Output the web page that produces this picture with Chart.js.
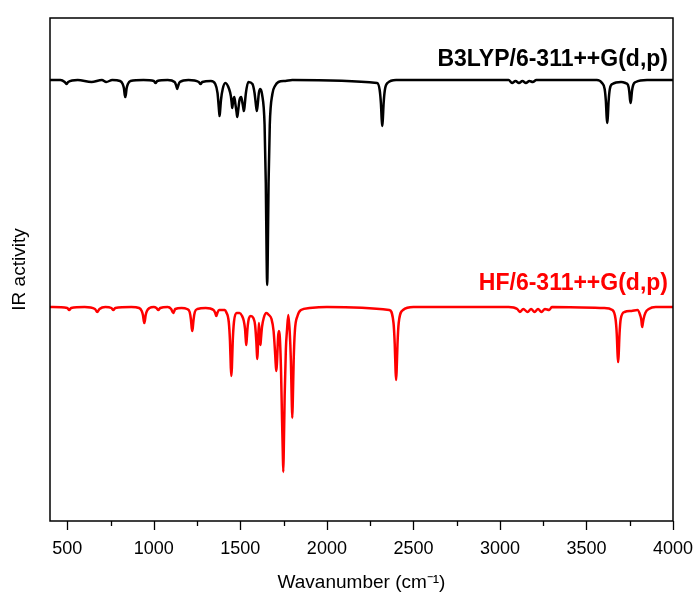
<!DOCTYPE html>
<html>
<head>
<meta charset="utf-8">
<script src="https://cdn.jsdelivr.net/npm/chart.js@4.4.1/dist/chart.umd.min.js"></script>
<style>
  html, body { margin: 0; padding: 0; background: #fff; }
  #wrap { width: 697px; height: 600px; }
</style>
</head>
<body>
<div id="wrap"><canvas id="c" width="697" height="600"></canvas></div>
<script>
// B3LYP/6-311++G(d,p) spectrum (wavenumber, activity in arbitrary units)
var wnB3 = [400, 460, 485, 495, 505, 560, 640, 700, 725, 760,
  805, 820, 827, 832, 835, 838, 843, 850, 865, 940,
  1000, 1010, 1020, 1080, 1120, 1130, 1135, 1140, 1150, 1200,
  1260, 1270, 1280, 1330, 1355, 1368, 1375, 1378, 1380, 1383, 1388, 1398, 1413,
  1435, 1445, 1450, 1453, 1458, 1465, 1472, 1478, 1482, 1487, 1495, 1505,
  1512, 1517, 1520, 1524, 1532, 1546, 1570, 1582, 1590, 1595, 1600, 1607, 1615,
  1625, 1640, 1647, 1652, 1655, 1658, 1663, 1670, 1685, 1700, 1720, 1760, 1800,
  2290, 2305, 2312, 2317, 2320, 2323, 2328, 2335, 2350, 2400, 3000,
  3050, 3070, 3090, 3110, 3130, 3150, 3170, 3190, 3210, 3560,
  3590, 3605, 3612, 3617, 3620, 3623, 3628, 3635, 3650, 3700,
  3725, 3740, 3747, 3752, 3755, 3758, 3763, 3770, 3785, 3850, 4000];
var irB3 = [441, 441, 439, 437, 439, 441, 439, 441, 439, 441,
  440, 437, 433, 426, 424, 426, 433, 437, 440, 441,
  440, 438, 440, 441, 439, 435, 432, 435, 439, 441,
  439, 437, 439, 440, 437, 428, 414, 408, 405, 410, 421, 432, 438,
  432, 425, 418, 413, 420, 424, 416, 409, 404, 410, 421, 424,
  418, 413, 410, 414, 428, 439, 437, 428, 416, 410, 416, 428, 432,
  427, 396, 338, 261, 236, 261, 338, 396, 427, 435, 439, 440, 441,
  438, 431, 418, 401, 395, 401, 418, 431, 438, 441, 441,
  441, 438, 440, 438, 440, 438, 440, 439, 441, 441,
  438, 432, 420, 403, 398, 403, 420, 432, 437, 439,
  438, 436, 430, 421, 418, 421, 430, 436, 439, 441, 441];

// HF/6-311++G(d,p) spectrum
var wnHF = [400, 500, 511, 522, 600, 660, 673, 686, 720, 755, 766, 777, 870,
  915, 930, 937, 942, 945, 948, 953, 960, 975, 1000,
  1015, 1026, 1037, 1080, 1100, 1112, 1124, 1160,
  1192, 1207, 1214, 1219, 1222, 1225, 1230, 1237, 1252, 1300,
  1345, 1355, 1361, 1367, 1377, 1410,
  1418, 1433, 1440, 1445, 1448, 1451, 1456, 1463, 1478, 1495,
  1510, 1520, 1527, 1531, 1534, 1537, 1542, 1550, 1560,
  1575, 1585, 1592, 1596, 1598, 1601, 1607,
  1611, 1614, 1616, 1619, 1625, 1635, 1650, 1665,
  1680, 1692, 1700, 1705, 1708, 1712, 1718, 1723, 1728,
  1735, 1741, 1745, 1748, 1751, 1756, 1763, 1770, 1777,
  1785, 1792, 1797, 1800, 1803, 1808, 1815, 1830, 1850, 1900, 2000,
  2360, 2385, 2392, 2397, 2400, 2403, 2408, 2415, 2440, 2500, 3050,
  3100, 3115, 3135, 3160, 3180, 3200, 3220, 3240, 3260, 3285, 3300, 3600,
  3650, 3668, 3675, 3680, 3683, 3686, 3691, 3698, 3720, 3760,
  3795, 3810, 3817, 3820, 3822, 3825, 3830, 3840, 3860, 3900, 4000];
var irHF = [214, 213, 211, 213, 214, 212, 209, 212, 214, 213, 211, 213, 214,
  213, 210, 206, 200, 198, 200, 206, 210, 213, 214,
  213, 211, 213, 214, 212, 208, 212, 213,
  212, 209, 202, 193, 190, 193, 202, 209, 212, 213,
  211, 208, 205, 208, 211, 211,
  209, 199, 180, 153, 145, 153, 180, 199, 208, 208,
  205, 200, 192, 182, 176, 182, 194, 203, 205,
  203, 196, 180, 166, 162, 172, 198,
  186, 178, 176, 182, 194, 203, 208, 206,
  202, 190, 170, 155, 150, 160, 184, 190, 184,
  150, 100, 70, 49, 72, 125, 172, 192, 206,
  190, 160, 120, 103, 120, 160, 190, 205, 211, 213, 214,
  211, 198, 177, 150, 141, 150, 177, 198, 211, 214, 214,
  212, 209, 212, 209, 212, 209, 212, 209, 212, 211, 214, 213,
  211, 202, 187, 166, 159, 166, 187, 202, 209, 210,
  211, 206, 201, 196, 194, 197, 202, 208, 212, 214, 214];

var xTicks = [500, 750, 1000, 1250, 1500, 1750, 2000, 2250, 2500, 2750, 3000, 3250, 3500, 3750, 4000];
var labelB3 = 'B3LYP/6-311++G(d,p)';
var labelHF = 'HF/6-311++G(d,p)';

var FONT = '"Liberation Sans", Arial, sans-serif';

function pts(xs, ys) {
  var out = [];
  for (var i = 0; i < xs.length; i++) out.push({ x: xs[i], y: ys[i] });
  return out;
}

var framePlugin = {
  id: 'frame',
  afterDraw: function (chart) {
    var ctx = chart.ctx, a = chart.chartArea, sx = chart.scales.x;
    ctx.save();
    ctx.strokeStyle = '#000';
    ctx.lineWidth = 1.5;
    ctx.strokeRect(a.left, a.top, a.right - a.left, a.bottom - a.top);
    ctx.lineWidth = 1.3;
    for (var i = 0; i < xTicks.length; i++) {
      var px = Math.round(sx.getPixelForValue(xTicks[i])) + 0.5;
      var len = xTicks[i] % 500 === 0 ? 9 : 5;
      ctx.beginPath();
      ctx.moveTo(px, a.bottom);
      ctx.lineTo(px, a.bottom + len);
      ctx.stroke();
    }
    ctx.font = 'bold 23px ' + FONT;
    ctx.textAlign = 'right';
    ctx.textBaseline = 'middle';
    ctx.fillStyle = '#000';
    ctx.fillText(labelB3, a.right - 5, 60);
    ctx.fillStyle = '#ff0000';
    ctx.fillText(labelHF, a.right - 5, 284);
    ctx.restore();
  }
};

new Chart(document.getElementById('c'), {
  type: 'line',
  data: {
    datasets: [
      { label: labelB3, data: pts(wnB3, irB3), borderColor: '#000', borderWidth: 2.5,
        pointRadius: 0, cubicInterpolationMode: 'monotone', fill: false },
      { label: labelHF, data: pts(wnHF, irHF), borderColor: '#ff0000', borderWidth: 2.5,
        pointRadius: 0, cubicInterpolationMode: 'monotone', fill: false }
    ]
  },
  options: {
    responsive: false,
    animation: false,
    layout: { padding: { top: 18, right: 24, left: 0, bottom: 0 } },
    plugins: { legend: { display: false }, tooltip: { enabled: false } },
    scales: {
      x: {
        type: 'linear', min: 400, max: 4000,
        afterBuildTicks: function (s) {
          s.ticks = xTicks.filter(function (v) { return v % 500 === 0; }).map(function (v) { return { value: v }; });
        },
        afterFit: function (s) { s.height = 79; s.paddingLeft = 0; s.paddingRight = 0; },
        grid: { display: false, drawTicks: false },
        border: { display: false },
        ticks: { color: '#000', padding: 17, maxRotation: 0, autoSkip: false,
          font: { family: FONT, size: 18 },
          callback: function (v) { return String(v); } },
        title: { display: true, text: 'Wavanumber (cm\u207B\u00B9)', color: '#000',
          font: { family: FONT, size: 19 },
          padding: { top: 4, bottom: 6 } }
      },
      y: {
        min: 0, max: 503,
        afterFit: function (s) { s.width = 50; },
        grid: { display: false, drawTicks: false },
        border: { display: false },
        ticks: { display: false },
        title: { display: true, text: 'IR activity', color: '#000',
          font: { family: FONT, size: 19 },
          padding: { top: 8, bottom: 0 } }
      }
    }
  },
  plugins: [framePlugin]
});
</script>
</body>
</html>
